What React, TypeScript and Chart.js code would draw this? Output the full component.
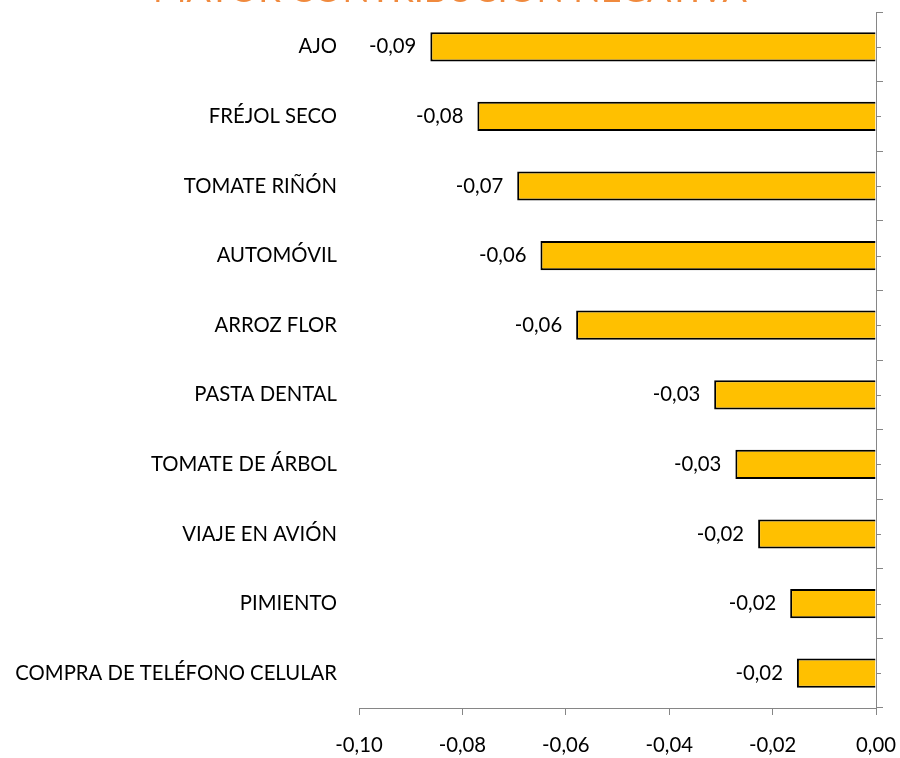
import React, { useEffect, useRef } from "react";
import { Chart, registerables } from "chart.js";

Chart.register(...registerables);

const categories = [
  "AJO",
  "FRÉJOL SECO",
  "TOMATE RIÑÓN",
  "AUTOMÓVIL",
  "ARROZ FLOR",
  "PASTA DENTAL",
  "TOMATE DE ÁRBOL",
  "VIAJE EN AVIÓN",
  "PIMIENTO",
  "COMPRA DE TELÉFONO CELULAR",
];

const contribution = [
  -0.0862, -0.0771, -0.0694, -0.0649, -0.058, -0.0313, -0.0272, -0.0228, -0.0166, -0.0153,
];

const xMin = -0.1;
const xMax = 0;
const xStep = 0.02;

const titleText = "MAYOR CONTRIBUCIÓN NEGATIVA";

const FONT = "Lato";
const FONT_SIZE = 20.3;
const AXIS_GRAY = "#868686";
const SHIFT = 40;

const fmt = (v: number) => v.toFixed(2).replace(".", ",");

const valueLabels = {
  id: "valueLabels",
  afterDatasetsDraw(chart: any) {
    const ctx = chart.ctx;
    const meta = chart.getDatasetMeta(0);
    const data = chart.data.datasets[0].data as number[];
    ctx.save();
    ctx.font = `${FONT_SIZE}px ${FONT}`;
    ctx.fillStyle = "#000";
    ctx.textAlign = "right";
    ctx.textBaseline = "middle";
    meta.data.forEach((el: any, i: number) => {
      ctx.fillText(fmt(data[i]), el.x - 14, el.y);
    });
    ctx.restore();
  },
};

const minorTicks = {
  id: "minorTicks",
  afterDraw(chart: any) {
    const s = chart.scales.y2;
    if (!s) return;
    const ctx = chart.ctx;
    ctx.save();
    ctx.strokeStyle = AXIS_GRAY;
    ctx.lineWidth = 1;
    s.ticks.forEach((_t: any, i: number) => {
      const y = Math.round(s.getPixelForTick(i)) + 0.5;
      ctx.beginPath();
      ctx.moveTo(s.left, y);
      ctx.lineTo(s.left + 5, y);
      ctx.stroke();
    });
    ctx.restore();
  },
};

export default function App() {
  const ref = useRef<HTMLCanvasElement>(null);

  useEffect(() => {
    if (!ref.current) return;
    const chart = new Chart(ref.current, {
      type: "bar",
      data: {
        labels: categories,
        datasets: [
          {
            data: contribution,
            backgroundColor: "#FFC000",
            borderColor: "#000000",
            borderWidth: 2,
            barPercentage: 0.42,
            categoryPercentage: 1,
            yAxisID: "y",
          },
        ],
      },
      options: {
        indexAxis: "y",
        responsive: false,
        animation: false,
        layout: { padding: { top: 12, left: 0, right: 0, bottom: 0 } },
        plugins: {
          legend: { display: false },
          tooltip: { enabled: false },
          title: {
            display: true,
            text: titleText,
            color: "#F08A3E",
            font: { family: FONT, size: 36, weight: "normal", lineHeight: 1 },
            padding: { top: 0, bottom: 4 },
          },
        },
        scales: {
          x: {
            type: "linear",
            min: xMin,
            max: xMax,
            position: "bottom",
            ticks: {
              stepSize: xStep,
              color: "#000",
              font: { family: FONT, size: FONT_SIZE },
              padding: 18,
              callback: (v: any) => fmt(Number(v)),
            },
            grid: {
              drawOnChartArea: false,
              drawTicks: true,
              tickLength: 7,
              color: AXIS_GRAY,
            },
            border: { display: true, color: AXIS_GRAY, width: 1 },
            afterFit: (s: any) => {
              s.height = 50;
              s.paddingLeft = 0;
              s.paddingRight = 0;
            },
          },
          y: {
            type: "category",
            position: "left",
            offset: true,
            ticks: {
              color: "#000",
              font: { family: FONT, size: FONT_SIZE },
              padding: 22,
            },
            grid: { display: false, drawTicks: false },
            border: { display: false },
            afterFit: (s: any) => {
              s.width = 359;
            },
          },
          y2: {
            type: "category",
            position: "right",
            labels: categories,
            offset: true,
            ticks: { display: false },
            grid: {
              offset: true,
              drawOnChartArea: false,
              drawTicks: true,
              tickLength: 7,
              color: AXIS_GRAY,
            },
            border: { display: true, color: AXIS_GRAY, width: 1 },
            afterFit: (s: any) => {
              s.width = 24;
            },
          },
        },
      },
      plugins: [valueLabels, minorTicks],
    });
    return () => chart.destroy();
  }, []);

  return (
    <div
      style={{
        position: "fixed",
        left: 0,
        top: -SHIFT,
        width: 900,
        height: 758 + SHIFT,
        background: "#fff",
      }}
    >
      <canvas ref={ref} width={900} height={758 + SHIFT} style={{ display: "block" }} />
    </div>
  );
}
